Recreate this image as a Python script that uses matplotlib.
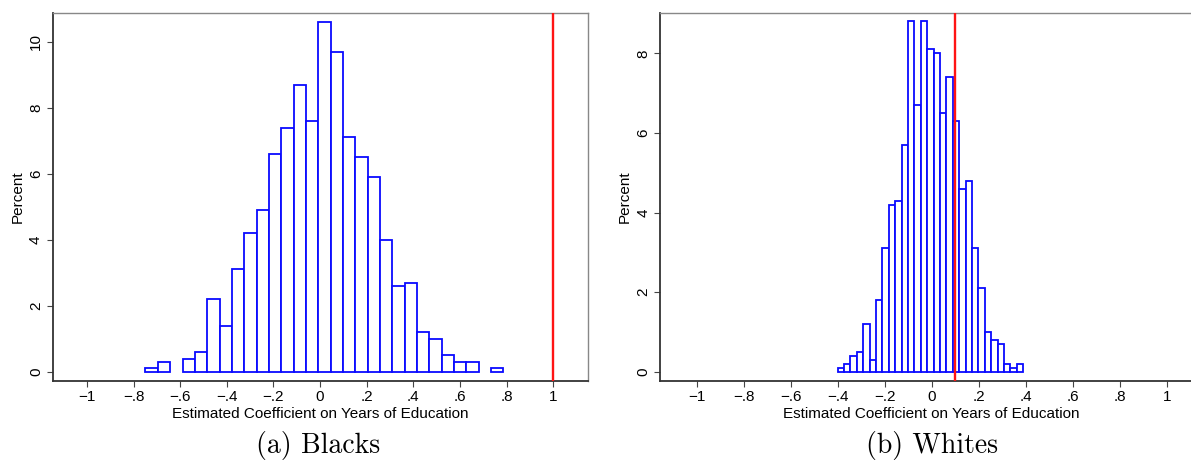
import numpy as np
import matplotlib
matplotlib.use("Agg")
import matplotlib.pyplot as plt

# Histogram of estimated coefficients (percent per bin), 29 equal-width bins each
black_min, black_max = -0.749, 0.786
black_pct = [0.1, 0.3, 0.0, 0.4, 0.6, 2.2, 1.4, 3.1, 4.2, 4.9, 6.6, 7.4, 8.7, 7.6,
             10.6, 9.7, 7.1, 6.5, 5.9, 4.0, 2.6, 2.7, 1.2, 1.0, 0.5, 0.3, 0.3, 0.0, 0.1]
black_ref = 1.0

white_min, white_max = -0.401, 0.389
white_pct = [0.1, 0.2, 0.4, 0.5, 1.2, 0.3, 1.8, 3.1, 4.2, 4.3, 5.7, 8.8, 6.7, 8.8,
             8.1, 8.0, 6.5, 7.4, 6.3, 4.6, 4.8, 3.1, 2.1, 1.0, 0.8, 0.7, 0.2, 0.1, 0.2]
white_ref = 0.1

x_ticks = [-1, -0.8, -0.6, -0.4, -0.2, 0, 0.2, 0.4, 0.6, 0.8, 1]
x_tick_labels = ["\u22121", "\u2212.8", "\u2212.6", "\u2212.4", "\u2212.2", "0",
                 ".2", ".4", ".6", ".8", "1"]
black_y_ticks = [0, 2, 4, 6, 8, 10]
white_y_ticks = [0, 2, 4, 6, 8]
x_label = "Estimated Coefficient on Years of Education"
y_label = "Percent"

plt.rcParams["font.family"] = ["Liberation Sans", "DejaVu Sans"]

W, H = 1191, 463
fig = plt.figure(figsize=(W / 100, H / 100), dpi=100)


def px_axes(x0, x1, y0, y1):
    return fig.add_axes([x0 / W, 1 - y1 / H, (x1 - x0) / W, (y1 - y0) / H])


def draw_panel(ax, lo, hi, pct, ref, yticks, xlim, ylim):
    edges = np.linspace(lo, hi, len(pct) + 1)
    width = edges[1] - edges[0]
    pct = np.asarray(pct)
    keep = pct > 0
    ax.bar(edges[:-1][keep], pct[keep], width=width, align="edge",
           facecolor="white", edgecolor="#0a0aff", linewidth=1.3, zorder=2)
    ax.axvline(ref, color="#ff1414", linewidth=1.7, zorder=3)
    ax.set_xlim(*xlim)
    ax.set_ylim(*ylim)
    ax.set_xticks(x_ticks)
    ax.set_xticklabels(x_tick_labels, fontsize=11)
    ax.set_yticks(yticks)
    ax.set_yticklabels([str(t) for t in yticks], fontsize=11,
                       rotation=90, va="center")
    ax.tick_params(direction="out", length=4, width=0.8, color="#444444",
                   pad=3)
    ax.set_xlabel(x_label, fontsize=11, labelpad=1.5)
    ax.set_ylabel(y_label, fontsize=11, labelpad=3)
    for side in ("left", "bottom"):
        ax.spines[side].set_color("#333333")
        ax.spines[side].set_linewidth(1.3)
    for side in ("top", "right"):
        ax.spines[side].set_color("#888888")
        ax.spines[side].set_linewidth(1.0)


ax1 = px_axes(52.7, 588, 12.7, 380.7)
draw_panel(ax1, black_min, black_max, black_pct, black_ref, black_y_ticks,
           (-1.147, 1.149), (-0.27, 10.88))

ax2 = px_axes(660, 1202, 12.7, 380.7)
draw_panel(ax2, white_min, white_max, white_pct, white_ref, white_y_ticks,
           (-1.157, 1.15), (-0.226, 9.02))

fig.text(318 / W, 1 - 446 / H, "(a) Blacks", family="cmr10", fontsize=20,
         ha="center", va="center")
fig.text(932 / W, 1 - 446 / H, "(b) Whites", family="cmr10", fontsize=20,
         ha="center", va="center")

fig.savefig("out.png", dpi=100)
